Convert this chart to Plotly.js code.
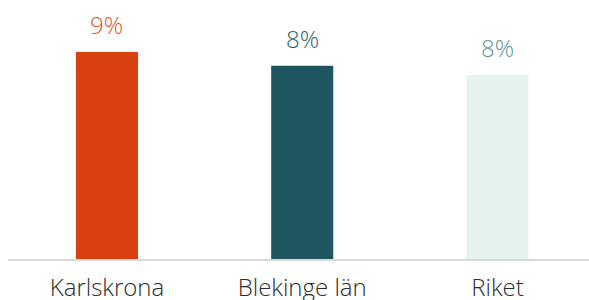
<!DOCTYPE html>
<html><head><meta charset="utf-8">
<script src="https://cdn.plot.ly/plotly-3.0.1.min.js"></script>
<style>html,body{margin:0;padding:0;background:#fff}#c{width:589px;height:300px}</style>
</head><body><div id="c"></div>
<script>
const categories = ["Karlskrona", "Blekinge län", "Riket"];
const values = [9.0, 8.4, 8.0];
const barColors = ["#D9400F", "#1F555E", "#E5F3F0"];
const labelColors = ["#E0532A", "#33636A", "#5E9595"];

const trace = {
  type: 'bar', x: categories, y: values,
  marker: {color: barColors, line: {width: 0}},
  width: 0.318, hoverinfo: 'none'
};
const annotations = categories.map((c, i) => ({
  x: c, y: values[i], xref: 'x', yref: 'y', text: Math.round(values[i]) + '%',
  showarrow: false, yanchor: 'bottom', yshift: 9,
  font: {family: '"Open Sans", sans-serif', size: 24, color: labelColors[i], weight: 300}
}));
Plotly.newPlot('c', [trace], {
  width: 589, height: 300,
  margin: {l: 8, r: 0, t: 0, b: 41},
  paper_bgcolor: '#fff', plot_bgcolor: '#fff',
  showlegend: false,
  xaxis: {range: [-0.507, 2.469], showline: true, linecolor: '#d9d9d9', linewidth: 2,
    ticks: '', showgrid: false, zeroline: false, ticklabelstandoff: 6,
    tickfont: {family: '"Open Sans", sans-serif', size: 24, color: '#2b2b2b', weight: 300}},
  yaxis: {range: [0, 11.26], visible: false, showgrid: false, zeroline: false},
  annotations: annotations
}, {staticPlot: true});
</script></body></html>
